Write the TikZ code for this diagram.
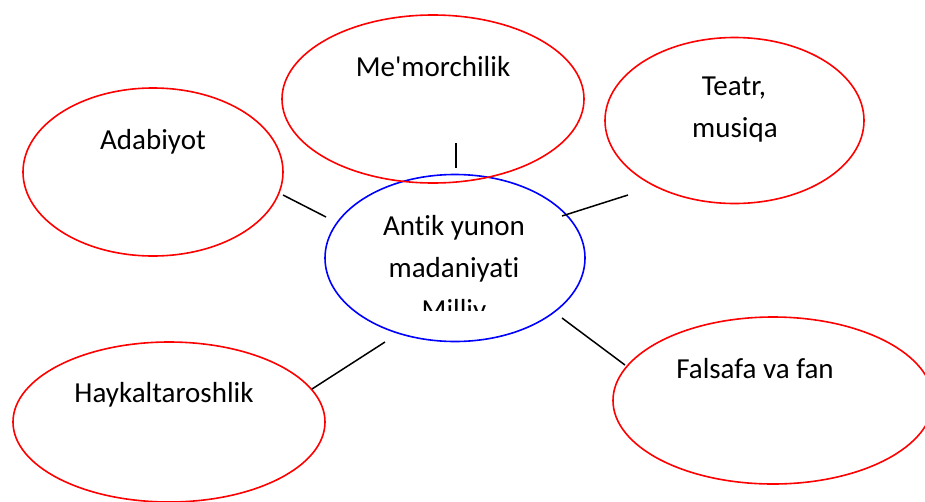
\documentclass[tikz,border=0pt]{standalone}
\usepackage{fontspec}
\setmainfont{Carlito}[Ligatures={NoCommon,TeXOff}]
\usetikzlibrary{shapes.geometric}
\begin{document}
\begin{tikzpicture}[x=1pt,y=-1pt,
  bubble/.style={ellipse,draw=red,line width=1.6pt,inner sep=0pt,outer sep=0pt},
  hub/.style={ellipse,draw=blue,line width=1.6pt,inner sep=0pt,outer sep=0pt},
  lbl/.style={anchor=base,inner sep=0pt,font=\fontsize{29}{42}\selectfont},
  link/.style={draw=black,line width=1.5pt}]
\useasboundingbox (0,0) rectangle (925,501);
% ellipses
\node[hub,minimum width=260pt,minimum height=167pt] (hubE) at (455,258) {};
\node[bubble,minimum width=260pt,minimum height=168pt] (adabE) at (153,172) {};
\node[bubble,minimum width=302pt,minimum height=168pt] (memE) at (433,99) {};
\node[bubble,minimum width=259pt,minimum height=166pt] (teatrE) at (734.5,120.5) {};
\node[bubble,minimum width=320pt,minimum height=167pt] (falsE) at (773,400.5) {};
\node[bubble,minimum width=312pt,minimum height=160pt] (haykE) at (169,422) {};
% texts
\node[lbl] (adabT) at (153,149) {Adabiyot};
\node[lbl] (memT) at (433,76) {Me'morchilik};
\node[lbl] (teatrT1) at (734,95) {Teatr,};
\node[lbl] (teatrT2) at (735,137) {musiqa};
\node[lbl] (falsT) at (755,378) {Falsafa va fan};
\node[lbl] (haykT) at (164,402) {Haykaltaroshlik};
\node[lbl] (hubT1) at (454,235) {Antik yunon};
\node[lbl] (hubT2) at (454,277) {madaniyati};
\begin{scope}
\clip (325,290) rectangle (585,310);
\node[lbl] (hubT3) at (454,319) {Milliy};
\end{scope}
% connector ends
\coordinate (a1) at (283,195);
\coordinate (a2) at (326,217);
\coordinate (m1) at (456,143);
\coordinate (m2) at (456,168);
\coordinate (t1) at (628,195);
\coordinate (t2) at (562,216);
\coordinate (f1) at (562,318);
\coordinate (f2) at (625,365);
\coordinate (h1) at (385,342);
\coordinate (h2) at (312,389);
\draw[link] (a1) -- (a2);
\draw[link] (m1) -- (m2);
\draw[link] (t1) -- (t2);
\draw[link] (f1) -- (f2);
\draw[link] (h1) -- (h2);
\end{tikzpicture}
\end{document}
